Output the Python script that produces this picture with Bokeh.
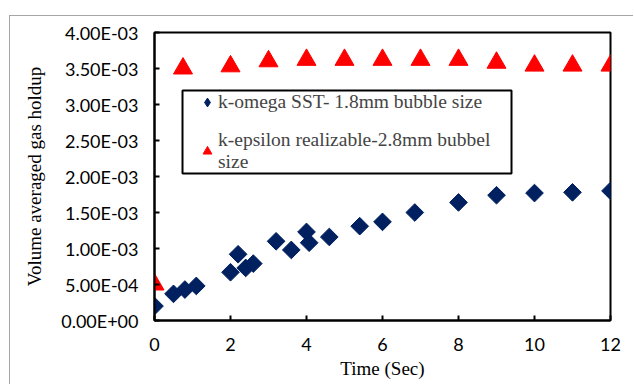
import numpy as np
from bokeh.plotting import figure
from bokeh.models import (ColumnDataSource, FixedTicker, CustomJSTickFormatter,
                          Legend, LegendItem, Range1d, BoxAnnotation)
from bokeh.embed import file_html
from bokeh.resources import INLINE

# k-omega SST, 1.8 mm bubbles
time_komega = [0.0, 0.5, 0.8, 1.1, 2.0, 2.2, 2.4, 2.6, 3.2, 3.6, 4.0, 4.07,
               4.6, 5.4, 6.0, 6.85, 8.0, 9.0, 10.0, 11.0, 12.0]
holdup_komega = [2.0e-4, 3.7e-4, 4.3e-4, 4.8e-4, 6.7e-4, 9.2e-4, 7.3e-4, 7.9e-4,
                 1.10e-3, 9.8e-4, 1.23e-3, 1.08e-3, 1.16e-3, 1.31e-3, 1.37e-3,
                 1.50e-3, 1.64e-3, 1.74e-3, 1.77e-3, 1.78e-3, 1.80e-3]

# k-epsilon realizable, 2.8 mm bubbles
time_keps = [0.0, 0.75, 2.0, 3.0, 4.0, 5.0, 6.0, 7.0, 8.0, 9.0, 10.0, 11.0, 12.0]
holdup_keps = [5.0e-4, 3.50e-3, 3.53e-3, 3.60e-3, 3.62e-3, 3.62e-3, 3.62e-3,
               3.62e-3, 3.62e-3, 3.58e-3, 3.54e-3, 3.54e-3, 3.54e-3]

x_ticks = [0, 2, 4, 6, 8, 10, 12]
y_ticks = [0.0, 5e-4, 1e-3, 1.5e-3, 2e-3, 2.5e-3, 3e-3, 3.5e-3, 4e-3]

label_komega = "k-omega SST- 1.8mm bubble size"
label_keps = "k-epsilon realizable-2.8mm bubbel\nsize"

NAVY = "#002060"
RED = "#ff0000"

p = figure(width=624, height=369, output_backend="svg", toolbar_location=None,
           x_range=Range1d(0, 12), y_range=Range1d(0, 4e-3),
           min_border_left=144, min_border_right=24, min_border_top=16,
           min_border_bottom=65, margin=(15, 0, 0, 9))
# thin grey chart-area edge along the top and left
p.styles = {"border-top": "1px solid #a6a6a6", "border-left": "1px solid #a6a6a6"}

p.xgrid.visible = False
p.ygrid.visible = False
p.outline_line_color = "black"
p.outline_line_width = 2

# white legend panel with a black frame, drawn under the points
legend_frame = BoxAnnotation(left=0.737, right=9.395, top=3.194e-3, bottom=2.04e-3,
                             fill_color="white", fill_alpha=1.0,
                             line_color="black", line_alpha=1.0, line_width=2,
                             level="underlay")
p.add_layout(legend_frame)

src_k = ColumnDataSource(dict(x=time_komega, y=holdup_komega))
src_e = ColumnDataSource(dict(x=time_keps, y=holdup_keps))

# rotated squares give the diamond markers
r_k = p.scatter("x", "y", source=src_k, marker="square", size=12.5, angle=np.pi / 4,
                fill_color=NAVY, line_color=NAVY)
r_e = p.scatter("x", "y", source=src_e, marker="triangle", size=19,
                fill_color=RED, line_color=RED)
# zero-size stand-in so the legend key shows a diamond symbol
r_k_key = p.scatter("x", "y", source=src_k, marker="diamond", size=0,
                    fill_color=NAVY, line_color=NAVY)

for ax in (p.xaxis[0], p.yaxis[0]):
    ax.axis_line_color = "black"
    ax.axis_line_width = 2
    ax.major_tick_line_color = "black"
    ax.major_tick_line_width = 2
    ax.major_tick_in = 5
    ax.major_tick_out = 0
    ax.minor_tick_line_color = None
    ax.major_label_text_font = "Lato"
    ax.major_label_text_font_size = "18px"
    ax.major_label_text_color = "black"
    ax.axis_label_text_font = "Liberation Serif"
    ax.axis_label_text_font_size = "19px"
    ax.axis_label_text_font_style = "normal"
    ax.axis_label_text_color = "black"

p.xaxis.ticker = FixedTicker(ticks=x_ticks)
p.yaxis.ticker = FixedTicker(ticks=y_ticks)
p.yaxis.formatter = CustomJSTickFormatter(code="""
const s = tick.toExponential(2).toUpperCase();
const parts = s.split('E');
const sign = parts[1][0] === '-' ? '-' : '+';
let d = parts[1].replace(/[+-]/, '');
if (d.length < 2) { d = '0' + d; }
return parts[0] + 'E' + sign + d;
""")
p.xaxis.major_label_standoff = 17
p.yaxis.major_label_standoff = 16
p.xaxis.axis_label = "Time (Sec)"
p.yaxis.axis_label = "Volume averaged gas holdup"
p.xaxis.axis_label_standoff = 4
p.yaxis.axis_label_standoff = 13

legend = Legend(items=[LegendItem(label=label_komega, renderers=[r_k_key]),
                       LegendItem(label=label_keps, renderers=[r_e])],
                location=(42, 147), margin=0, padding=0, spacing=16,
                glyph_width=22, glyph_height=22, label_standoff=0,
                label_text_font="Liberation Serif", label_text_font_size="19.5px",
                label_text_line_height=0.65, label_height=20,
                border_line_color=None, background_fill_alpha=0.0)
p.add_layout(legend)

open("out.html", "w").write(file_html(p, INLINE))
